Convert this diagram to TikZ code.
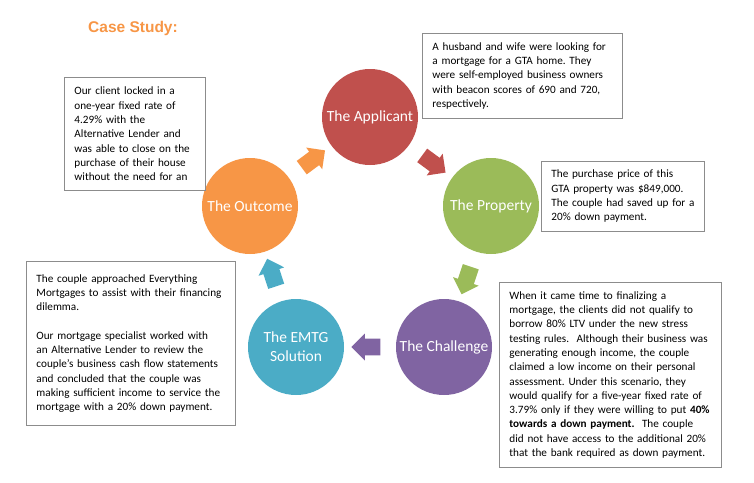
\documentclass[tikz,border=0pt]{standalone}
\usepackage{fontspec}
\setmainfont{Carlito}
\newfontfamily\titlefont{Liberation Sans}
\usetikzlibrary{shapes.arrows}
\definecolor{redphase}{HTML}{C0504D}
\definecolor{greenphase}{HTML}{9BBB59}
\definecolor{purplephase}{HTML}{8064A2}
\definecolor{bluephase}{HTML}{4BACC6}
\definecolor{orangephase}{HTML}{F79646}
\frenchspacing
\begin{document}
\begin{tikzpicture}[x=1pt,y=-1pt]
\tikzstyle{phase}=[circle,minimum size=96pt,inner sep=0pt,text=white,align=center,font=\fontsize{15.5}{19}\selectfont];
\tikzstyle{note}=[draw=black!45,line width=0.9pt,anchor=north west,align=left,inner xsep=10pt,inner ysep=3pt,font=\fontsize{11.2}{14.3}\selectfont];
\tikzstyle{flow}=[single arrow,sloped,allow upside down,minimum height=29pt,minimum width=27pt,single arrow head extend=5pt,inner sep=8pt];
\useasboundingbox (0,0) rectangle (754,482);
\node [anchor=base west,inner sep=0pt,text=orangephase,font=\titlefont\bfseries\fontsize{15.5}{19}\selectfont] (title) at (88,32) {Case Study:};

\node [phase,fill=redphase] (appl) at (370,117) {The Applicant};
\node [phase,fill=greenphase] (prop) at (491,206) {The Property};
\node [phase,fill=purplephase] (chal) at (444,347) {The Challenge};
\node [phase,fill=bluephase] (emtg) at (296,347) {The EMTG\\Solution};
\node [phase,fill=orangephase] (outc) at (250,206) {The Outcome};

\path (outc) -- node [flow,fill=orangephase] {} (appl);
\path (appl) -- node [flow,fill=redphase] {} (prop);
\path (prop) -- node [flow,fill=greenphase] {} (chal);
\path (chal) -- node [flow,fill=purplephase] {} (emtg);
\path (emtg) -- node [flow,fill=bluephase] {} (outc);

\node [note,text width=180pt,minimum height=85pt] (applnote) at (422,33) {A husband and wife were looking for\\a mortgage for a GTA home. They\\were self-employed business owners\\with beacon scores of 690 and 720,\\respectively.};
\node [note,text width=143pt,minimum height=70pt] (propnote) at (541,161) {The purchase price of this\\GTA property was \$849,000.\\The couple had saved up for a\\20\% down payment.};
\node [note,text width=202pt,minimum height=185pt] (chalnote) at (499,282) {When it came time to finalizing a\\mortgage, the clients did not qualify to\\borrow 80\% LTV under the new stress\\testing rules.\ \ Although their business was\\generating enough income, the couple\\claimed a low income on their personal\\assessment. Under this scenario, they\\would qualify for a five-year fixed rate of\\3.79\% only if they were willing to put \textbf{40\%}\\\textbf{towards a down payment.}\ \ The couple\\did not have access to the additional 20\%\\that the bank required as down payment.};
\node [note,text width=189pt,minimum height=164pt] (emtgnote) at (26,261) {The couple approached Everything\\Mortgages to assist with their financing\\dilemma.\\[14.3pt]Our mortgage specialist worked with\\an Alternative Lender to review the\\couple’s business cash flow statements\\and concluded that the couple was\\making sufficient income to service the\\mortgage with a 20\% down payment.};
\node [note,text width=121pt,minimum height=113pt] (outcnote) at (64,77) {Our client locked in a\\one-year fixed rate of\\4.29\% with the\\Alternative Lender and\\was able to close on the\\purchase of their house\\without the need for an};
\end{tikzpicture}
\end{document}
